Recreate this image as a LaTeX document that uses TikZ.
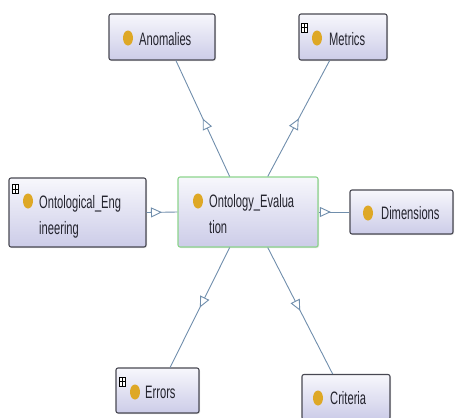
\documentclass[tikz,border=0pt]{standalone}
\usepackage{fontspec}
\setmainfont[FakeStretch=0.62]{Liberation Sans}
\usetikzlibrary{arrows.meta,decorations.markings,calc,shadows,shapes.geometric}

\definecolor{edgeblue}{RGB}{112,142,172}
\definecolor{boxtop}{RGB}{247,247,252}
\definecolor{boxbot}{RGB}{204,204,232}
\definecolor{boxline}{RGB}{72,72,82}
\definecolor{selline}{RGB}{140,212,140}
\definecolor{bulletcol}{RGB}{222,168,38}
\definecolor{labeltext}{RGB}{35,35,45}

\begin{document}
\begin{tikzpicture}[x=1pt,y=-1pt,
  classbox/.style n args={2}{draw=boxline, line width=1.1pt, rounded corners=2pt,
    top color=boxtop, bottom color=boxbot, inner sep=0pt,
    minimum width=#1pt, minimum height=#2pt,
    drop shadow={shadow xshift=1pt, shadow yshift=-1pt, opacity=0.25}},
  selbox/.style={draw=selline},
  bulletdot/.style={ellipse, fill=bulletcol, inner sep=0pt,
    minimum width=10pt, minimum height=15pt},
  expander/.style={draw=black, fill=white, line width=0.5pt, inner sep=0pt,
    minimum width=6pt, minimum height=9pt,
    path picture={\draw[line width=0.7pt]
      (path picture bounding box.west) -- (path picture bounding box.east)
      (path picture bounding box.north) -- (path picture bounding box.south);}},
  lbl/.style={anchor=base west, inner sep=0pt, text=labeltext, align=left,
    font=\fontsize{18}{26}\selectfont},
  isa/.style={draw=edgeblue, line width=0.9pt, postaction={decorate},
    decoration={markings, mark=at position #1 with
      {\arrow{Triangle[length=11pt, width=10pt, fill=white]}}}},
  isa/.default=0.5]

\useasboundingbox (0,0) rectangle (456,418);

% class boxes
\node[classbox={106}{46}] (anom) at (162,37) {};
\node[classbox={88}{46}] (metr) at (343,37) {};
\node[classbox={137}{69}] (oeng) at (77.5,212.5) {};
\node[classbox={140}{70}, selbox] (eval) at (248,212) {};
\node[classbox={103}{44}] (dims) at (401.5,212) {};
\node[classbox={83}{45}] (errs) at (157.5,390.5) {};
\node[classbox={88}{45}] (crit) at (346,397) {};

% expand markers
\node[expander] (metr-x) at (304.5,27.5) {};
\node[expander] (oeng-x) at (15,189) {};
\node[expander] (errs-x) at (122.5,381.5) {};

% class bullets
\node[bulletdot] (anom-b) at (128,38) {};
\node[bulletdot] (metr-b) at (317,38) {};
\node[bulletdot] (oeng-b) at (28,201) {};
\node[bulletdot] (eval-b) at (198,201) {};
\node[bulletdot] (dims-b) at (368,213) {};
\node[bulletdot] (errs-b) at (135,392) {};
\node[bulletdot] (crit-b) at (318,398) {};

% class names (two-line labels are anchored on their last line)
\node[lbl] (anom-t) at (139,45) {Anomalies};
\node[lbl] (metr-t) at (329,45) {Metrics};
\node[lbl] (oeng-t) at (39,234) {Ontological\_Eng\\ineering};
\node[lbl] (eval-t) at (209,233) {Ontology\_Evalua\\tion};
\node[lbl] (dims-t) at (381,219) {Dimensions};
\node[lbl] (errs-t) at (145,398) {Errors};
\node[lbl] (crit-t) at (330,404) {Criteria};

% subclass links
\draw[isa] (oeng.east) -- (eval.west);
\draw[isa=0.4] (eval.east) -- (dims.west);
\draw[isa] ($(eval.north west)!0.37!(eval.north east)$) -- ($(anom.south west)!0.63!(anom.south east)$);
\draw[isa] ($(eval.north west)!0.64!(eval.north east)$) -- ($(metr.south west)!0.35!(metr.south east)$);
\draw[isa] ($(eval.south west)!0.37!(eval.south east)$) -- ($(errs.north west)!0.65!(errs.north east)$);
\draw[isa] ($(eval.south west)!0.64!(eval.south east)$) -- ($(crit.north west)!0.35!(crit.north east)$);
\end{tikzpicture}
\end{document}
